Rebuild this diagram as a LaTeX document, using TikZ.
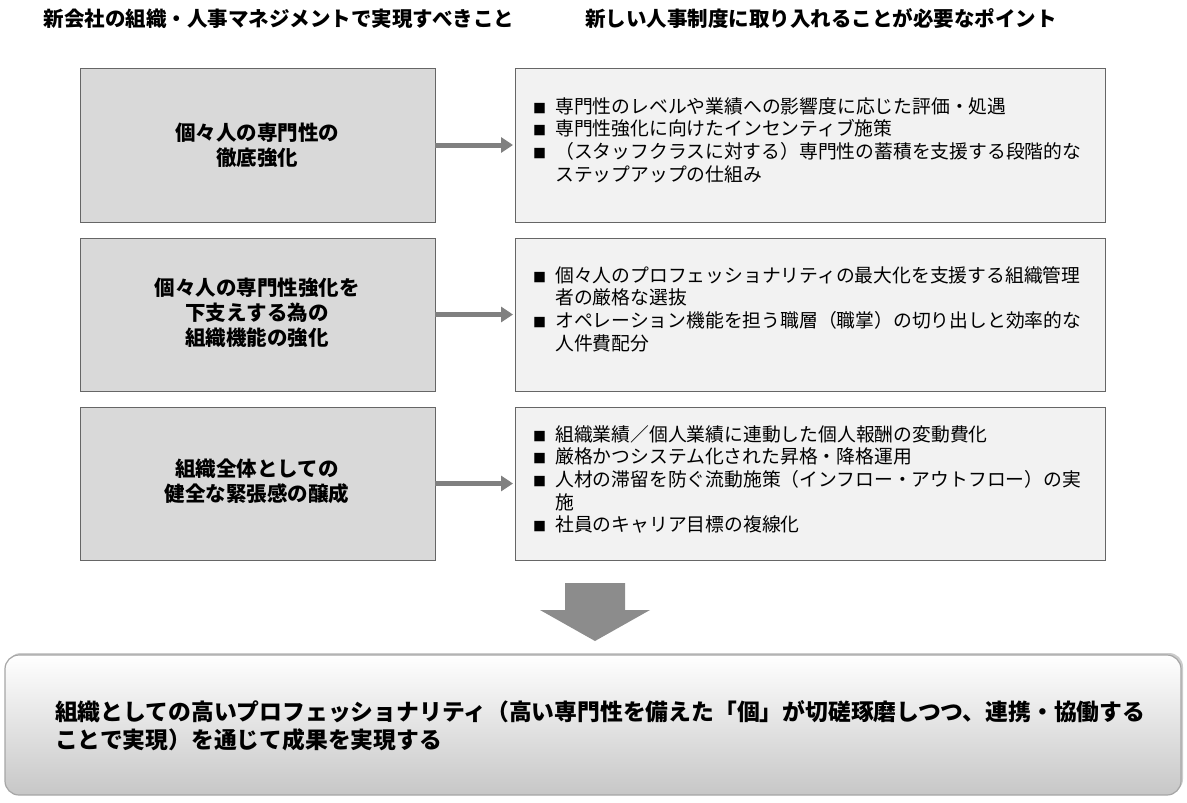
\documentclass[tikz,border=0pt]{standalone}
\usepackage{fontspec}
\setmainfont{Noto Sans CJK JP}
\usetikzlibrary{shadows,arrows.meta}
\newcommand{\bul}{\makebox[22pt][l]{\fontsize{13}{13}\selectfont ■}}
\begin{document}
\begin{tikzpicture}[x=1pt,y=-1pt,
  lbox/.style={draw=gray!80!black,fill=black!15,line width=0.8pt},
  rbox/.style={draw=gray!80!black,fill=black!5,line width=0.8pt},
  ltext/.style={font=\fontsize{20.5}{25}\selectfont\bfseries,align=center},
  rtext/.style={font=\fontsize{18.8}{22.5}\selectfont,anchor=north west,inner sep=0pt},
  conn/.style={draw=gray,line width=5pt,-{Triangle[length=12pt,width=15pt]}}]
\useasboundingbox (0,0) rectangle (1187,803);
\node[font=\fontsize{20.5}{24}\selectfont\bfseries] (h1) at (279,19) {新会社の組織・人事マネジメントで実現すべきこと};
\node[font=\fontsize{20.5}{24}\selectfont\bfseries] (h2) at (821,19) {新しい人事制度に取り入れることが必要なポイント};
% rows
\foreach \t/\b/\n in {68/222/1,238/391/2,407/560/3}{
  \path[lbox] (80,\t) rectangle (435,\b);
  \path[rbox] (515,\t) rectangle (1105,\b);
  \coordinate (L\n) at (435,{(\t+\b)/2});
  \coordinate (R\n) at (513,{(\t+\b)/2});
}
\node[ltext] (l1) at (257,145) {個々人の専門性の\\徹底強化};
\node[ltext] (l2) at (257,313) {個々人の専門性強化を\\下支えする為の\\組織機能の強化};
\node[ltext] (l3) at (257,481) {組織全体としての\\健全な緊張感の醸成};
\draw[conn] (L1) -- (R1);
\draw[conn] (L2) -- (R2);
\draw[conn] (L3) -- (R3);
\node[rtext] (r1) at (533,97) {\begin{tabular}{@{}l@{}l@{}}
\bul & 専門性のレベルや業績への影響度に応じた評価・処遇\\
\bul & 専門性強化に向けたインセンティブ施策\\
\bul & （スタッフクラスに対する）専門性の蓄積を支援する段階的な\\
  & ステップアップの仕組み\end{tabular}};
\node[rtext] (r2) at (533,266) {\begin{tabular}{@{}l@{}l@{}}
\bul & 個々人のプロフェッショナリティの最大化を支援する組織管理\\
  & 者の厳格な選抜\\
\bul & オペレーション機能を担う職層（職掌）の切り出しと効率的な\\
  & 人件費配分\end{tabular}};
\node[rtext] (r3) at (533,425) {\begin{tabular}{@{}l@{}l@{}}
\bul & 組織業績／個人業績に連動した個人報酬の変動費化\\
\bul & 厳格かつシステム化された昇格・降格運用\\
\bul & 人材の滞留を防ぐ流動施策（インフロー・アウトフロー）の実\\
  & 施\\
\bul & 社員のキャリア目標の複線化\end{tabular}};
% big arrow
\fill[gray!90] (565,583) -- (625,583) -- (625,610) -- (650,610) -- (595,641) -- (540,610) -- (565,610) -- cycle;
% bottom box
\path[draw=gray!70,line width=1.2pt,rounded corners=14pt,top color=white,bottom color=black!22,drop shadow={shadow xshift=2pt,shadow yshift=2pt,opacity=0.4}] (5,655) rectangle (1181,795);
\node[font=\fontsize{22.8}{28}\selectfont\bfseries,anchor=west,align=left,inner sep=0pt] (b) at (55,726) {組織としての高いプロフェッショナリティ（高い専門性を備えた「個」が切磋琢磨しつつ、連携・協働する\\ことで実現）を通じて成果を実現する};
\end{tikzpicture}
\end{document}
